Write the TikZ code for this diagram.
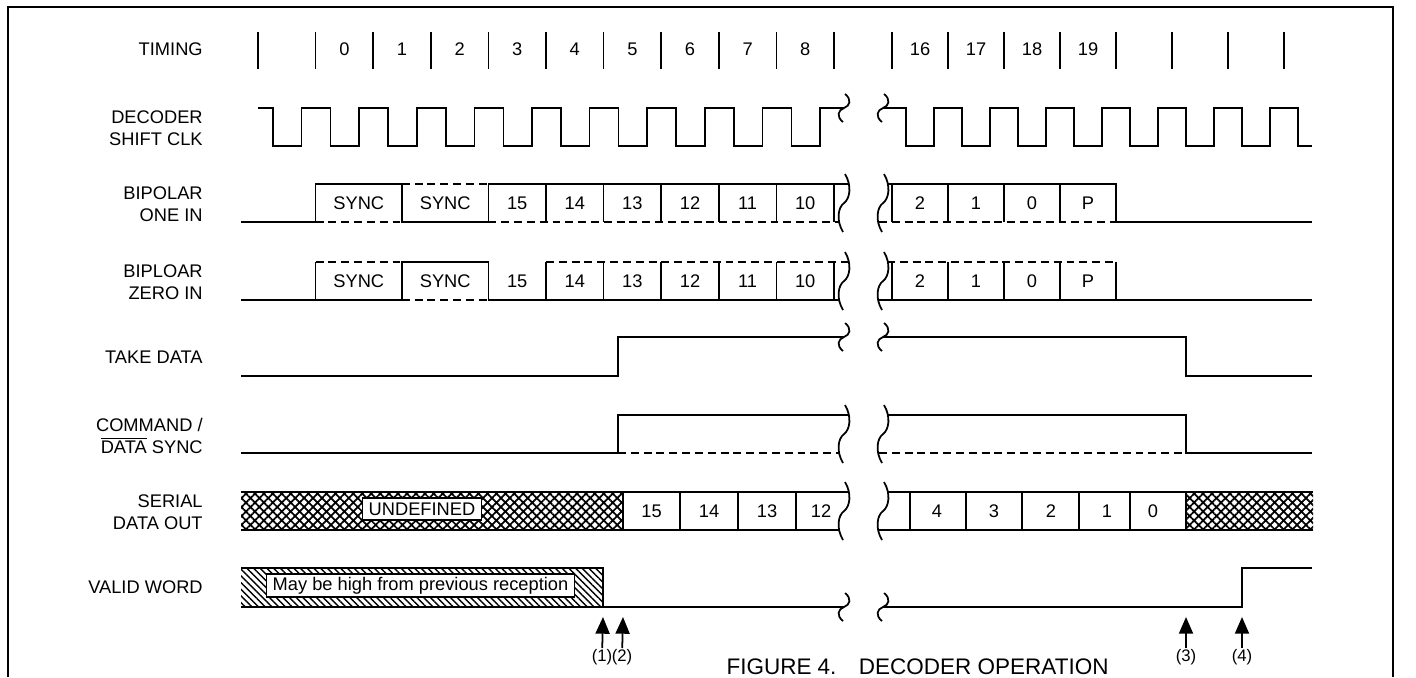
\documentclass[tikz,border=0pt]{standalone}
\usepackage{fontspec}
\setmainfont{Liberation Sans}
\usepackage{tikz}
\usetikzlibrary{arrows.meta,patterns.meta}

% kırık işareti: x, y, yarım yükseklik
\newcommand{\kirik}[3]{%
  \draw[sinyal] ({#1+1},{#2-#3}) .. controls ({#1+8},{#2-0.6*#3}) and ({#1+6},{#2-0.15*#3}) .. (#1,#2)
    .. controls ({#1-6},{#2+0.15*#3}) and ({#1-8},{#2+0.6*#3}) .. ({#1-1},{#2+#3});}

\begin{document}
\begin{tikzpicture}[x=0.02cm, y=-0.02cm,
    sinyal/.style={line width=1pt},
    kesikli/.style={line width=1pt, dash pattern=on 4.5pt off 2.8pt},
    etiket/.style={anchor=east, align=right, inner sep=0pt, font=\fontsize{10.4}{12.5}\selectfont},
    deger/.style={inner sep=0pt, font=\fontsize{10.4}{12.5}\selectfont},
    notkutu/.style={draw, fill=white, line width=0.8pt, inner xsep=3.4pt, inner ysep=1.6pt, font=\fontsize{10.4}{12.5}\selectfont},
    numara/.style={inner sep=0.5pt, font=\fontsize{9.5}{11}\selectfont},
    pil/.style={line width=1pt, -{Triangle[length=9.5pt,width=8pt]}},
    kafes/.style={pattern={Hatch[angle=45,distance=3.6pt,line width=1pt]}},
    tarama/.style={pattern={Lines[angle=-45,distance=2.7pt,line width=0.8pt]}}]
        \useasboundingbox (0,0) rectangle (1416,677);

        % Çerçeve
        \draw[sinyal] (8,677) -- (8,7) -- (1393,7) -- (1393,677);

        % Satır adları
        \node[etiket] (timing) at (203,49) {TIMING};
        \node[etiket] (clk) at (203,128) {DECODER\\SHIFT CLK};
        \node[etiket] (one) at (203,204) {BIPOLAR\\ONE IN};
        \node[etiket] (zero) at (203,282) {BIPLOAR\\ZERO IN};
        \node[etiket] (take) at (203,357) {TAKE DATA};
        \node[etiket] (cds) at (203,436) {COMMAND /\\$\overline{\mbox{DATA}}$ SYNC};
        \node[etiket] (sdo) at (203,512) {SERIAL\\DATA OUT};
        \node[etiket] (valid) at (203,587) {VALID WORD};

        % Zamanlama
        \foreach \i in {0,...,10} \draw[sinyal] ({258+57.6*\i},32) -- ({258+57.6*\i},69);
        \foreach \i in {0,...,7} \draw[sinyal] ({892+56*\i},32) -- ({892+56*\i},69);
        \foreach \n [count=\k from 1] in {0,...,8} \node[deger] (t\n) at ({258+57.6*(\k+0.5)},49) {\n};
        \foreach \n [count=\k from 0] in {16,...,19} \node[deger] (t\n) at ({892+56*(\k+0.5)},49) {\n};

        % Saat
        \draw[sinyal] (258,108) \foreach \i in {0,...,9} {
            -- ({273+57.6*\i},108) -- ({273+57.6*\i},146) -- ({301.6+57.6*\i},146) -- ({301.6+57.6*\i},108)}
            -- (844,108);
        \draw[sinyal] (883,108) \foreach \j in {0,...,6} {
            -- ({906+56*\j},108) -- ({906+56*\j},146) -- ({934+56*\j},146) -- ({934+56*\j},108)}
            -- (1298,108) -- (1298,146) -- (1312,146);
        \kirik{844}{108}{14}
        \kirik{883}{108}{14}

        % Bipolar one
        \draw[sinyal] (241,222) -- (315.6,222) -- (315.6,184) -- (401.8,184) -- (401.8,222) -- (488.4,222) -- (488.4,184) -- (848,184);
        \draw[kesikli] (315.6,222) -- (401.8,222);
        \draw[kesikli] (401.8,184) -- (488.4,184);
        \draw[kesikli] (488.4,222) -- (840,222);
        \foreach \i in {5,...,10} \draw[sinyal] ({258+57.6*\i},184) -- ({258+57.6*\i},222);
        \draw[sinyal] (887,184) -- (1116,184) -- (1116,222) -- (1312,222);
        \draw[kesikli] (879,222) -- (1116,222);
        \foreach \x in {892,948,1004,1060} \draw[sinyal] (\x,184) -- (\x,222);
        \kirik{844}{203}{29}
        \kirik{883}{203}{29}
        \node[deger] (oS1) at (358.8,203) {SYNC};
        \node[deger] (oS2) at (445.2,203) {SYNC};
        \foreach \n [count=\k from 4] in {15,14,13,12,11,10} \node[deger] (o\n) at ({258+57.6*(\k+0.5)},203) {\n};
        \foreach \n [count=\k from 0] in {2,1,0,P} \node[deger] (o\n) at ({920+56*\k},203) {\n};

        % Bipolar zero
        \draw[sinyal] (241,300) -- (315.6,300) -- (315.6,262);
        \draw[kesikli] (315.6,262) -- (401.8,262);
        \draw[sinyal] (315.6,300) -- (401.8,300) -- (401.8,262) -- (488.4,262) -- (488.4,300) -- (840,300);
        \draw[kesikli] (401.8,300) -- (488.4,300);
        \draw[kesikli] (546,262) -- (848,262);
        \foreach \i in {5,...,10} \draw[sinyal] ({258+57.6*\i},262) -- ({258+57.6*\i},300);
        \draw[kesikli] (887,262) -- (1116,262);
        \draw[sinyal] (879,300) -- (1312,300);
        \foreach \x in {892,948,1004,1060,1116} \draw[sinyal] (\x,262) -- (\x,300);
        \kirik{844}{281}{29}
        \kirik{883}{281}{29}
        \node[deger] (zS1) at (358.8,281) {SYNC};
        \node[deger] (zS2) at (445.2,281) {SYNC};
        \foreach \n [count=\k from 4] in {15,14,13,12,11,10} \node[deger] (z\n) at ({258+57.6*(\k+0.5)},281) {\n};
        \foreach \n [count=\k from 0] in {2,1,0,P} \node[deger] (z\n) at ({920+56*\k},281) {\n};

        % Take data
        \draw[sinyal] (241,376) -- (618,376) -- (618,337) -- (844,337);
        \draw[sinyal] (883,337) -- (1186,337) -- (1186,376) -- (1312,376);
        \kirik{844}{337}{14}
        \kirik{883}{337}{14}

        % Command / data sync
        \draw[sinyal] (241,453) -- (618,453) -- (618,415) -- (848,415);
        \draw[kesikli] (618,453) -- (840,453);
        \draw[sinyal] (887,415) -- (1186,415) -- (1186,453) -- (1312,453);
        \draw[kesikli] (879,453) -- (1186,453);
        \kirik{844}{434}{29}
        \kirik{883}{434}{29}

        % Serial data out
        \fill[kafes] (241,492) rectangle (623,530);
        \fill[kafes] (1186,492) rectangle (1313,530);
        \draw[sinyal] (241,492) -- (848,492);
        \draw[sinyal] (241,530) -- (840,530);
        \draw[sinyal] (887,492) -- (1313,492);
        \draw[sinyal] (879,530) -- (1313,530);
        \foreach \x in {623,680,738,796,910,966,1022,1079,1130,1186} \draw[sinyal] (\x,492) -- (\x,530);
        \kirik{844}{511}{29}
        \kirik{883}{511}{29}
        \node[notkutu, inner ysep=2.6pt] (undef) at (422,509) {UNDEFINED};
        \foreach \n/\x in {15/651.5,14/709,13/767,12/821,4/937,3/994,2/1051,1/1107,0/1153} \node[deger] (s\n) at (\x,511) {\n};

        % Valid word
        \fill[tarama] (241,568) rectangle (603,607);
        \draw[sinyal] (241,568) -- (603,568) -- (603,607);
        \draw[sinyal] (241,607) -- (844,607);
        \draw[sinyal] (883,607) -- (1242,607) -- (1242,568) -- (1312,568);
        \kirik{844}{607}{14}
        \kirik{883}{607}{14}
        \node[notkutu] (prev) at (420.5,585.5) {May be high from previous reception};

        % Olay okları
        \node[numara] (m1) at (602,657) {(1)};
        \node[numara] (m2) at (622,657) {(2)};
        \node[numara] (m3) at (1186,657) {(3)};
        \node[numara] (m4) at (1242,657) {(4)};
        \coordinate (u1) at (603,617);
        \coordinate (u2) at (623,617);
        \coordinate (u3) at (1186,617);
        \coordinate (u4) at (1242,617);
        \foreach \k in {1,...,4} \draw[pil] (m\k) -- (u\k);

        % Başlık
        \node[inner sep=0pt, font=\fontsize{12.8}{15}\selectfont] (baslik) at (917.5,666.5) {FIGURE 4.\quad DECODER OPERATION};
    \end{tikzpicture}
\end{document}
